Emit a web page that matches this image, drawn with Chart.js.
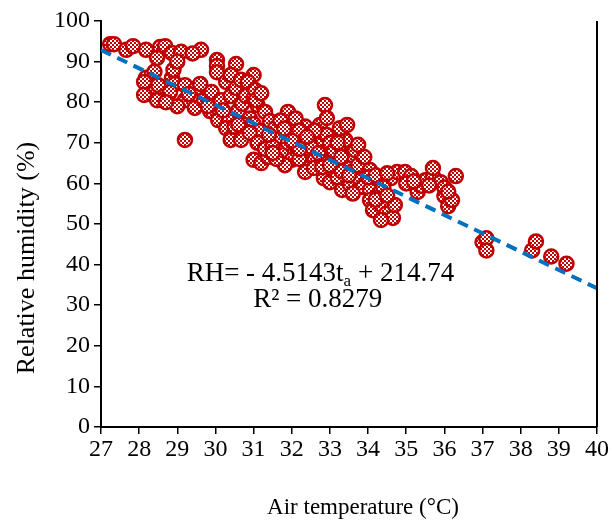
<!DOCTYPE html>
<html>
<head>
<meta charset="utf-8">
<script src="https://cdn.jsdelivr.net/npm/chart.js@4.4.0/dist/chart.umd.min.js"></script>
<style>
  body { margin: 0; background: #fff; }
</style>
</head>
<body>
<canvas id="scatterChart" width="615" height="531"></canvas>
<script>
// Scatter: air temperature vs relative humidity

const airTemp = [
  27.24, 27.34, 27.66, 27.84, 28.18, 28.55, 28.68, 28.47, 28.86, 29.1, 29.62, 30.04, 30.04, 30.04, 30.54,
  28.18, 28.31, 28.13, 28.13, 28.5, 28.62, 28.47, 28.86, 28.94, 28.81, 29.2, 29.2, 29.2, 29.5, 29.46,
  29.7, 29.9, 29.86, 30.15, 30.07, 30.28, 30.4, 30.54, 30.35, 30.28, 30.46, 30.4, 30.67, 30.6, 30.7,
  30.8, 30.9, 30.77, 31.0, 31.0, 31.1, 31.0, 31.17, 31.0, 31.2, 31.38, 31.3, 31.43, 31.56, 31.43,
  31.74, 31.9, 31.95, 31.82, 32.08, 32.0, 31.82, 32.3, 32.35, 32.4, 32.6, 32.35, 32.58, 32.69, 32.74,
  32.87, 32.92, 32.95, 33.08, 32.84, 33.0, 33.13, 33.26, 33.4, 33.2, 33.26, 33.45, 33.4, 33.53, 33.32,
  33.53, 33.66, 33.74, 33.7, 33.79, 33.87, 33.74, 34.05, 34.16, 34.05, 34.3, 34.05, 34.13, 34.34, 34.47,
  34.65, 34.34, 34.7, 34.6, 34.76, 34.97, 35.13, 35.3, 35.4, 35.5, 35.7, 35.7, 35.9, 36.0, 36.1,
  36.2, 36.3, 37.0, 37.1, 37.1, 38.3, 38.4, 38.8, 39.2,
  30.4, 30.67, 30.85, 31.04, 31.06, 31.2, 29.6, 29.3, 29.0, 28.7, 28.9, 29.0, 28.4, 29.4, 29.8,
  30.2, 30.5, 30.9, 31.1, 31.3, 31.5, 31.6, 31.7, 32.1, 32.2, 32.2, 32.5, 32.5, 32.7, 32.8,
  32.9, 33.0, 33.1, 33.2, 33.3, 33.5, 33.6, 33.9, 34.0, 34.2, 34.4, 34.5, 34.2, 34.5, 35.0,
  35.2, 35.6, 36.0, 36.1,
  31.5, 31.9, 32.2, 32.6, 33.0, 33.3, 31.8, 32.4, 33.2, 30.6, 31.4, 32.0
];

const relHumidity = [
  94.3, 94.3, 92.9, 93.8, 92.9, 93.6, 93.8, 90.9, 92.1, 92.4, 92.9, 90.4, 88.9, 87.4, 89.4,
  86, 82, 85, 81.8, 84.2, 81.3, 80.5, 86, 84.5, 82.5, 84.2, 80.5, 70.7, 83.5, 78.6,
  80.5, 82.5, 77.8, 80.5, 75.6, 85, 81.5, 83.5, 76, 73.6, 71.9, 70.7, 70.7, 78, 79.6,
  81.5, 76, 74.4, 86.7, 81, 79.3, 74.6, 72.9, 65.8, 65, 66.5, 77.6, 75.4, 73.6, 70.7,
  71.2, 77.6, 72.9, 68.2, 68.2, 65.8, 64.5, 70.7, 74, 67, 65.8, 62.8, 63.8, 70.7, 74.4,
  79.3, 76.1, 68.2, 65.8, 61.3, 60.3, 63.3, 68.7, 70.7, 71.9, 73.6, 74.4, 65.8, 67, 58.4,
  59.6, 68.2, 69.5, 62.8, 60.8, 59.1, 64.5, 63.3, 60.8, 58.4, 57.6, 55.9, 53.4, 54.7, 52.5,
  51.5, 51, 54.7, 61.3, 62.8, 62.8, 61.8, 57.9, 59.4, 60.8, 61.8, 63.8, 60.3, 56.9, 54.4,
  55.9, 61.8, 45.5, 46.5, 43.5, 43.5, 45.7, 42, 40.2,
  86.7, 85.5, 85, 83, 80.5, 82.2, 84.5, 82, 79, 80, 88, 90, 87.5, 92, 79,
  78, 74, 72.5, 70, 68.5, 69, 66, 75.5, 76, 73, 66, 69, 72, 67.5, 64,
  72, 70, 68, 61.5, 63, 62, 57.5, 66.5, 61.5, 62, 59, 62.5, 56, 57, 60,
  60.5, 59.5, 59, 58,
  67.5, 70, 68.5, 73, 64.5, 66.5, 73.5, 71.5, 70, 74.5, 72, 70.5
];

// Trend line: RH = -4.5143 ta + 214.74
const slope = -4.5143;
const intercept = 214.74;
const rSquared = 0.8279;
const trendX = [27, 40];

const xTicks = { min: 27, max: 40, step: 1 };
const yTicks = { min: 0, max: 100, step: 10 };

const serif = '"Liberation Serif", "Times New Roman", serif';

// checkered fill for the markers
const patCanvas = document.createElement('canvas');
patCanvas.width = 4;
patCanvas.height = 4;
const pctx = patCanvas.getContext('2d');
pctx.fillStyle = '#fff';
pctx.fillRect(0, 0, 4, 4);
pctx.fillStyle = '#C00000';
pctx.fillRect(0, 0, 2, 2);
pctx.fillRect(2, 2, 2, 2);
const dotPattern = pctx.createPattern(patCanvas, 'repeat');

const scatterPoints = airTemp.map((t, i) => ({ x: t, y: relHumidity[i] }));
const trendPoints = trendX.map(t => ({ x: t, y: slope * t + intercept }));

const frameAndText = {
  id: 'frameAndText',
  afterDraw(chart) {
    const { ctx, chartArea, scales: { x, y } } = chart;
    ctx.save();

    // right frame line
    ctx.strokeStyle = '#000';
    ctx.lineWidth = 2;
    ctx.beginPath();
    ctx.moveTo(chartArea.right, chartArea.top);
    ctx.lineTo(chartArea.right, chartArea.bottom);
    ctx.stroke();

    ctx.fillStyle = '#000';

    // axis titles (both sit a little off the axis centre in the original)
    ctx.save();
    ctx.translate(27, 258);
    ctx.rotate(-Math.PI / 2);
    ctx.font = '26px ' + serif;
    ctx.textAlign = 'center';
    ctx.textBaseline = 'middle';
    ctx.fillText('Relative humidity (%)', 0, 0);
    ctx.restore();

    ctx.save();
    ctx.font = '23px ' + serif;
    ctx.textAlign = 'center';
    ctx.textBaseline = 'middle';
    ctx.fillText('Air temperature (°C)', 363, 508);
    ctx.restore();

    // equation
    ctx.textBaseline = 'alphabetic';
    const big = '27px ' + serif;
    const small = '17px ' + serif;
    const p1 = 'RH= - ' + Math.abs(slope) + 't';
    const p2 = 'a';
    const p3 = ' + ' + intercept;
    ctx.font = big;
    const w1 = ctx.measureText(p1).width;
    const w3 = ctx.measureText(p3).width;
    ctx.font = small;
    const w2 = ctx.measureText(p2).width;
    const cx = x.getPixelForValue(32.75);
    let px = cx - (w1 + w2 + w3) / 2;
    const by = y.getPixelForValue(36);
    ctx.font = big;
    ctx.fillText(p1, px, by);
    px += w1;
    ctx.font = small;
    ctx.fillText(p2, px, by + 5);
    px += w2;
    ctx.font = big;
    ctx.fillText(p3, px, by);

    ctx.textAlign = 'center';
    ctx.fillText('R² = ' + rSquared, x.getPixelForValue(32.68), y.getPixelForValue(29.6));
    ctx.restore();
  }
};

new Chart(document.getElementById('scatterChart'), {
  type: 'scatter',

  data: {
    datasets: [{
      type: 'line',
      label: 'trend',
      data: trendPoints,
      borderColor: '#0070C0',
      borderWidth: 4,
      borderDash: [11, 7],
      pointRadius: 0,
      fill: false,
      order: 0
    }, {
      label: 'RH',
      data: scatterPoints,
      pointRadius: 7,
      borderWidth: 2.5,
      borderColor: '#C00000',
      backgroundColor: dotPattern,
      order: 1
    }]
  },

  options: {
    responsive: false,
    animation: false,

    layout: {
      padding: { top: 21, right: 18, left: 0, bottom: 0 }
    },

    plugins: {
      legend: { display: false },
      tooltip: { enabled: false }
    },

    scales: {
      x: {
        type: 'linear',
        min: xTicks.min,
        max: xTicks.max,
        afterFit: s => { s.height = 104; },
        ticks: {
          stepSize: xTicks.step,
          color: '#000',
          padding: 1,
          font: { family: serif, size: 24 }
        },
        grid: {
          drawOnChartArea: false,
          drawTicks: true,
          tickLength: 7,
          color: '#000',
          lineWidth: 1.5
        },
        border: { color: '#000', width: 2 },
        title: { display: false }
      },

      y: {
        min: yTicks.min,
        max: yTicks.max,
        afterFit: s => { s.width = 101; },
        ticks: {
          stepSize: yTicks.step,
          color: '#000',
          padding: 4,
          font: { family: serif, size: 24 }
        },
        grid: {
          drawOnChartArea: false,
          drawTicks: true,
          tickLength: 7,
          color: '#000',
          lineWidth: 1.5
        },
        border: { color: '#000', width: 2 },
        title: { display: false }
      }
    }
  },

  plugins: [frameAndText]
});
</script>
</body>
</html>
